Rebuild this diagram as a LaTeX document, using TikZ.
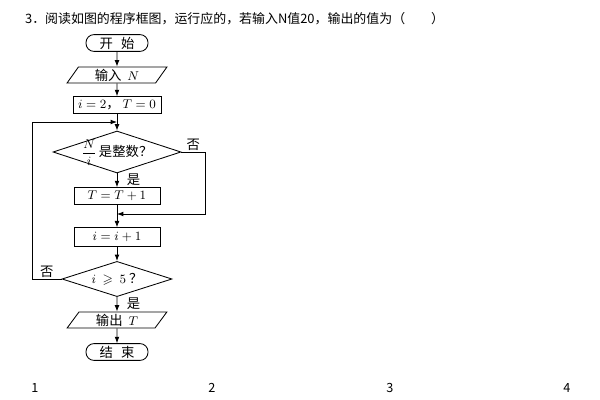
\documentclass[tikz,border=0pt]{standalone}
\usepackage{amsmath}
\usepackage{amssymb}
\usepackage{fontspec}
\setmainfont{Noto Sans CJK SC}
\usepackage{tikz}
\usetikzlibrary{arrows.meta,shapes.geometric,calc}
\newcommand{\flowfont}{\fontsize{9.5}{11}\selectfont}

\begin{document}
\begin{tikzpicture}[
    x=0.25mm, y=-0.25mm, line width=0.6pt,
    term/.style={draw, rounded corners=2mm, minimum width=15.5mm, minimum height=4.2mm, inner sep=0pt, font=\flowfont},
    io/.style={draw, trapezium, trapezium left angle=62, trapezium right angle=118, trapezium stretches=true, minimum width=25mm, minimum height=4mm, inner sep=0pt, font=\flowfont},
    proc/.style={draw, minimum width=22mm, minimum height=4.2mm, inner sep=0pt, font=\flowfont},
    cond/.style={draw, diamond, aspect=3, inner sep=0pt, text height=2.6mm, text depth=0.2mm, font=\flowfont},
    arrow/.style={-{Latex[length=1.6mm,width=1.2mm]}},
    lbl/.style={font=\flowfont, inner sep=1pt}
]
\useasboundingbox (0,0) rectangle (600,400);

\node[anchor=west, font=\fontsize{9.2}{11}\selectfont] (title) at (20,19) {3．阅读如图的程序框图，运行应的，若输入N值20，输出的值为（\quad\quad）};

\node[term] (start) at (117,43) {开\hspace{0.6em}始};
\node[io] (in) at (117,75) {输入\ \ $N$};
\node[proc] (init) at (117,105) {$i=2$，\ $T=0$};
\node[cond, minimum width=32mm, minimum height=10.5mm] (d1) at (117,152) {$\dfrac{N}{i}$\,是整数？};
\node[proc, minimum width=21.5mm] (tt) at (117,196) {$T=T+1$};
\node[proc, minimum width=21.5mm, minimum height=4.6mm] (ii) at (117,237) {$i=i+1$};
\node[cond, minimum width=27.5mm, minimum height=8.8mm] (d2) at (117,279) {$i\ \geqslant\ 5$\ ？};
\node[io] (out) at (117,320) {输出\ \ $T$};
\node[term] (stop) at (117,352) {结\hspace{0.6em}束};

\coordinate (join1) at (117,122);
\coordinate (join2) at (117,214);
\coordinate (rcorner) at (205,152);
\coordinate (lcorner) at (32,279);

\draw[arrow] (start) -- (in);
\draw[arrow] (in) -- (init);
\draw[arrow] (init) -- (d1);
\draw[arrow] (d1) -- node[lbl, right=2mm, pos=0.45]{是} (tt);
\draw[arrow] (tt) -- (ii);
\draw[arrow] (ii) -- (d2);
\draw[arrow] (d2) -- node[lbl, right=2mm, pos=0.45]{是} (out);
\draw[arrow] (out) -- (stop);
\draw[arrow] (d1.east) -- node[lbl, above]{否} (rcorner) |- (join2);
\draw[arrow] (d2.west) -- node[lbl, above]{否} (lcorner) |- (join1);

\node[font=\fontsize{9}{11}\selectfont] (n1) at (35,388) {1};
\node[font=\fontsize{9}{11}\selectfont] (n2) at (212,388) {2};
\node[font=\fontsize{9}{11}\selectfont] (n3) at (390,388) {3};
\node[font=\fontsize{9}{11}\selectfont] (n4) at (567,388) {4};
\end{tikzpicture}
\end{document}
